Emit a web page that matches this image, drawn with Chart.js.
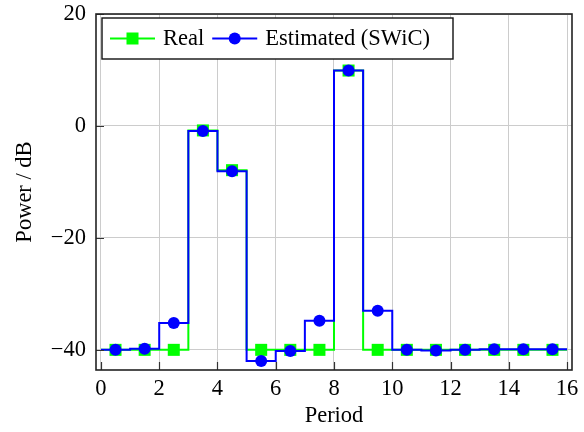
<!DOCTYPE html>
<html>
<head>
<meta charset="utf-8">
<script src="https://cdn.jsdelivr.net/npm/chart.js@4/dist/chart.umd.min.js"></script>
<style>
  html, body { margin: 0; padding: 0; background: #fff; }
</style>
</head>
<body>
<canvas id="chart" width="584" height="432"></canvas>
<script>
// period centres and the two power series (dB)
const periods = [0.5, 1.5, 2.5, 3.5, 4.5, 5.5, 6.5, 7.5, 8.5, 9.5, 10.5, 11.5, 12.5, 13.5, 14.5, 15.5];
const real = [-40, -40, -40, -0.8, -7.9, -40, -40, -40, 9.9, -40, -40, -40, -40, -40, -40, -40];
const estimated = [-40, -39.8, -35.2, -0.9, -8.1, -42, -40.2, -34.8, 9.9, -33, -40, -40.1, -40, -39.9, -39.9, -39.9];
const seriesNames = ["Real", "Estimated (SWiC)"];
const xTicks = [0, 2, 4, 6, 8, 10, 12, 14, 16];
const yTicks = [-40, -20, 0, 20];

const FONT = "'Liberation Serif', 'Times New Roman', serif";
const FS = 22.5;
const GREEN = "#00ff00";
const BLUE = "#0000ff";

// step line spans each whole period, marker sits in the middle
function stepPoints(vals) {
  const pts = periods.map((p, i) => ({ x: p, y: vals[i] }));
  pts.unshift({ x: periods[0] - 0.5, y: vals[0] });
  pts.push({ x: periods[periods.length - 1] + 0.5, y: vals[vals.length - 1] });
  return pts;
}
const edgeless = (r) => (ctx) => (ctx.dataIndex === 0 || ctx.dataIndex === periods.length + 1) ? 0 : r;

function drawMarker(ctx, style, x, y, color) {
  ctx.fillStyle = color;
  if (style === "rect") {
    ctx.fillRect(x - 6, y - 6, 12, 12);
  } else {
    ctx.beginPath();
    ctx.arc(x, y, 6, 0, Math.PI * 2);
    ctx.fill();
  }
}

const framePlugin = {
  id: "frame",
  afterDatasetsDraw(chart) {
    const { ctx, chartArea: a, scales } = chart;
    ctx.save();
    // inward ticks on left and bottom
    ctx.strokeStyle = "#333";
    ctx.lineWidth = 1.2;
    ctx.beginPath();
    xTicks.forEach(v => {
      const x = Math.round(scales.x.getPixelForValue(v)) + 0.5;
      ctx.moveTo(x, a.bottom); ctx.lineTo(x, a.bottom - 8);
    });
    yTicks.forEach(v => {
      const y = Math.round(scales.y.getPixelForValue(v)) + 0.5;
      ctx.moveTo(a.left, y); ctx.lineTo(a.left + 8, y);
    });
    ctx.stroke();
    // frame
    ctx.strokeStyle = "#222";
    ctx.lineWidth = 1.6;
    ctx.strokeRect(a.left, a.top, a.right - a.left, a.bottom - a.top);

    // legend box
    const bx = a.left + 6, by = a.top + 4, bw = 351, bh = 41;
    ctx.fillStyle = "#fff";
    ctx.fillRect(bx, by, bw, bh);
    ctx.strokeStyle = "#111";
    ctx.lineWidth = 1.4;
    ctx.strokeRect(bx, by, bw, bh);
    const cy = by + bh / 2;
    const items = [
      { name: seriesNames[0], color: GREEN, style: "rect" },
      { name: seriesNames[1], color: BLUE, style: "circle" }
    ];
    ctx.font = FS + "px " + FONT;
    ctx.textBaseline = "middle";
    let x = bx + 8;
    items.forEach(it => {
      ctx.strokeStyle = it.color;
      ctx.lineWidth = 2;
      ctx.beginPath();
      ctx.moveTo(x, cy); ctx.lineTo(x + 45, cy);
      ctx.stroke();
      drawMarker(ctx, it.style, x + 22.5, cy, it.color);
      ctx.fillStyle = "#000";
      ctx.fillText(it.name, x + 53, cy + 1);
      x += 53 + ctx.measureText(it.name).width + 8;
    });
    ctx.restore();
  }
};

new Chart(document.getElementById("chart"), {
  type: "line",
  data: {
    datasets: [
      {
        label: seriesNames[1],
        data: stepPoints(estimated),
        borderColor: BLUE,
        backgroundColor: BLUE,
        borderWidth: 2,
        stepped: "middle",
        pointStyle: "circle",
        pointRadius: edgeless(6),
        pointBorderWidth: 0,
        order: 0
      },
      {
        label: seriesNames[0],
        data: stepPoints(real),
        borderColor: GREEN,
        backgroundColor: GREEN,
        borderWidth: 2,
        stepped: "middle",
        pointStyle: "rect",
        pointRadius: edgeless(8.5),
        pointBorderWidth: 0,
        order: 1
      }
    ]
  },
  options: {
    responsive: false,
    animation: false,
    layout: { padding: { left: 0, right: 12, top: 14, bottom: 0 } },
    plugins: { legend: { display: false }, tooltip: { enabled: false } },
    scales: {
      x: {
        type: "linear",
        min: -0.17,
        max: 16.17,
        afterBuildTicks: s => { s.ticks = xTicks.map(v => ({ value: v })); },
        afterFit: s => { s.height = 62; s.paddingLeft = 0; s.paddingRight = 0; },
        grid: { color: "#cccccc", lineWidth: 1, drawTicks: false },
        border: { display: false },
        ticks: { color: "#000", font: { family: FONT, size: FS }, padding: 6, maxRotation: 0 },
        title: { display: true, text: "Period", color: "#000", font: { family: FONT, size: FS }, padding: { top: 0, bottom: 2 } }
      },
      y: {
        min: -43.6,
        max: 20,
        afterBuildTicks: s => { s.ticks = yTicks.map(v => ({ value: v })); },
        afterFit: s => { s.width = 96; s.paddingTop = 0; s.paddingBottom = 0; },
        grid: { color: "#cccccc", lineWidth: 1, drawTicks: false },
        border: { display: false },
        ticks: { color: "#000", font: { family: FONT, size: FS }, padding: 10,
          callback: v => v < 0 ? "\u2212" + Math.abs(v) : String(v) },
        title: { display: true, text: "Power / dB", color: "#000", font: { family: FONT, size: FS }, padding: { top: 12, bottom: 0 } }
      }
    }
  },
  plugins: [framePlugin]
});
</script>
</body>
</html>
